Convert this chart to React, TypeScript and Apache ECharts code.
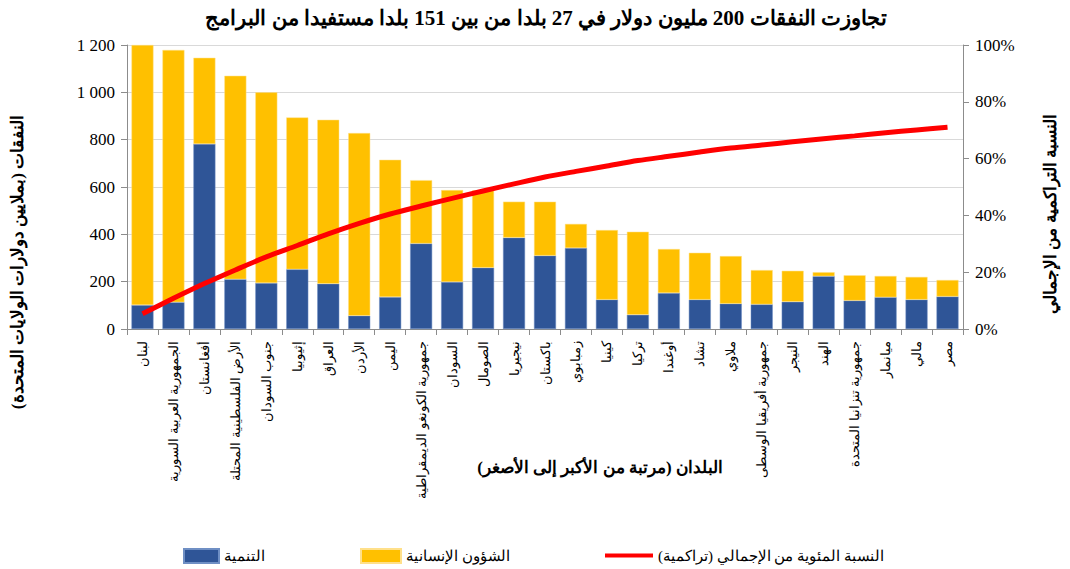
import React, { useEffect, useRef } from "react";
import * as echarts from "echarts";

const countries = [
  "لبنان",
  "الجمهورية العربية السورية",
  "أفغانستان",
  "الأرض الفلسطينية المحتلة",
  "جنوب السودان",
  "إثيوبيا",
  "العراق",
  "الأردن",
  "اليمن",
  "جمهورية الكونغو الديمقراطية",
  "السودان",
  "الصومال",
  "نيجيريا",
  "باكستان",
  "زمبابوي",
  "كينيا",
  "تركيا",
  "أوغندا",
  "تشاد",
  "ملاوي",
  "جمهورية أفريقيا الوسطى",
  "النيجر",
  "الهند",
  "جمهورية تنزانيا المتحدة",
  "ميانمار",
  "مالي",
  "مصر",
];

const development = [
  101, 113, 782, 210, 194, 252, 191, 56, 135, 361, 199, 259, 386, 310, 342,
  124, 60, 152, 124, 107, 104, 115, 223, 120, 134, 124, 137,
];

const humanitarian = [
  1099, 1066, 364, 860, 806, 642, 693, 772, 580, 268, 388, 327, 152, 228, 102,
  294, 351, 186, 198, 201, 145, 131, 17, 107, 90, 96, 70,
];

const cumulativePct = [
  5.4, 10.8, 16.0, 20.8, 25.4, 29.4, 33.5, 37.2, 40.5, 43.3, 46.0, 48.6, 51.1,
  53.5, 55.5, 57.4, 59.3, 60.8, 62.3, 63.7, 64.8, 65.9, 67.0, 68.0, 69.1, 70.1,
  71.0,
];

const titleText =
  "تجاوزت النفقات 200 مليون دولار في 27 بلدا من بين 151 بلدا مستفيدا من البرامج";
const leftAxisTitle = "النفقات (بملايين دولارات الولايات المتحدة)";
const rightAxisTitle = "النسبة التراكمية من الإجمالي";
const xAxisTitle = "البلدان (مرتبة من الأكبر إلى الأصغر)";
const devName = "التنمية";
const humName = "الشؤون الإنسانية";
const lineName = "النسبة المئوية من الإجمالي (تراكمية)";

const SERIF = "'Times New Roman', 'Liberation Serif', 'DejaVu Serif', serif";

export default function App() {
  const ref = useRef<HTMLDivElement>(null);

  useEffect(() => {
    if (!ref.current) return;
    const chart = echarts.init(ref.current, null, { renderer: "svg" });
    const legendText = { fontFamily: SERIF, fontSize: 15, color: "#000" };
    chart.setOption({
      animation: false,
      backgroundColor: "#fff",
      title: {
        text: titleText,
        left: 541,
        textAlign: "center",
        top: 2,
        textStyle: {
          fontFamily: SERIF,
          fontSize: 21,
          fontWeight: "bold",
          color: "#000",
        },
      },
      grid: { left: 127, right: 107, top: 45, bottom: 240 },
      legend: [
        {
          data: [{ name: devName, icon: "rect" }],
          left: 178,
          top: 543,
          itemWidth: 35,
          itemHeight: 14,
          textStyle: legendText,
        },
        {
          data: [{ name: humName, icon: "rect" }],
          left: 355,
          top: 543,
          itemWidth: 40,
          itemHeight: 14,
          textStyle: legendText,
        },
        {
          data: [
            {
              name: lineName,
              icon: "rect",
              itemStyle: { color: "#FF0000" },
            },
          ],
          left: 600,
          top: 543,
          itemWidth: 48,
          itemHeight: 4,
          textStyle: legendText,
        },
      ],
      xAxis: {
        type: "category",
        data: countries,
        boundaryGap: true,
        axisLine: { lineStyle: { color: "#8c8c8c", width: 1 } },
        axisTick: {
          show: true,
          alignWithLabel: false,
          length: 6,
          lineStyle: { color: "#8c8c8c" },
        },
        axisLabel: {
          interval: 0,
          rotate: 90,
          margin: 12,
          fontFamily: SERIF,
          fontSize: 13,
          color: "#000",
        },
      },
      yAxis: [
        {
          type: "value",
          min: 0,
          max: 1200,
          interval: 200,
          axisLine: { show: true, lineStyle: { color: "#8c8c8c" } },
          axisTick: { show: true, length: 6, lineStyle: { color: "#8c8c8c" } },
          splitLine: { lineStyle: { color: "#d9d9d9", width: 1 } },
          axisLabel: {
            fontFamily: SERIF,
            fontSize: 17,
            color: "#000",
            margin: 12,
            formatter: (v: number) =>
              v >= 1000
                ? Math.floor(v / 1000) + " " + String(v % 1000).padStart(3, "0")
                : String(v),
          },
        },
        {
          type: "value",
          min: 0,
          max: 100,
          interval: 20,
          position: "right",
          axisLine: { show: true, lineStyle: { color: "#8c8c8c" } },
          axisTick: { show: true, length: 6, lineStyle: { color: "#8c8c8c" } },
          splitLine: { show: false },
          axisLabel: {
            fontFamily: SERIF,
            fontSize: 17,
            color: "#000",
            margin: 12,
            formatter: "{value}%",
          },
        },
      ],
      series: [
        {
          name: devName,
          type: "bar",
          stack: "total",
          data: development,
          barWidth: 22,
          itemStyle: {
            color: "#2F5597",
            borderColor: "#6f8fc4",
            borderWidth: 0.5,
          },
        },
        {
          name: humName,
          type: "bar",
          stack: "total",
          data: humanitarian,
          barWidth: 22,
          itemStyle: {
            color: "#FFC000",
            borderColor: "#ffe08a",
            borderWidth: 0.5,
          },
        },
        {
          name: lineName,
          type: "line",
          yAxisIndex: 1,
          data: cumulativePct,
          smooth: 0.3,
          symbol: "none",
          lineStyle: { color: "#FF0000", width: 5 },
          itemStyle: { color: "#FF0000" },
          z: 5,
        },
      ],
      graphic: [
        {
          type: "text",
          x: 17,
          y: 262,
          rotation: Math.PI / 2,
          style: {
            text: leftAxisTitle,
            fontFamily: SERIF,
            fontSize: 17,
            fontWeight: "bold",
            fill: "#000",
            align: "center",
            verticalAlign: "middle",
          },
        },
        {
          type: "text",
          x: 1050,
          y: 214,
          rotation: Math.PI / 2,
          style: {
            text: rightAxisTitle,
            fontFamily: SERIF,
            fontSize: 17,
            fontWeight: "bold",
            fill: "#000",
            align: "center",
            verticalAlign: "middle",
          },
        },
        {
          type: "text",
          x: 600,
          y: 467,
          style: {
            text: xAxisTitle,
            fontFamily: SERIF,
            fontSize: 17,
            fontWeight: "bold",
            fill: "#000",
            align: "center",
            verticalAlign: "middle",
          },
        },
      ],
    });
    return () => chart.dispose();
  }, []);

  return (
    <div
      ref={ref}
      style={{ position: "fixed", left: 0, top: 0, width: 1070, height: 569 }}
    />
  );
}
